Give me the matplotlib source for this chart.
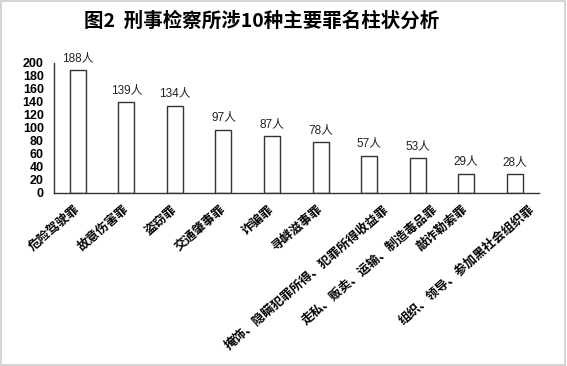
import matplotlib
matplotlib.use("Agg")
import matplotlib.pyplot as plt
from matplotlib.patches import Rectangle
from matplotlib.transforms import offset_copy

plt.rcParams['font.family'] = ['Noto Sans CJK SC', 'DejaVu Sans']

title = "图2  刑事检察所涉10种主要罪名柱状分析"
crimes = ["危险驾驶罪", "故意伤害罪", "盗窃罪", "交通肇事罪", "诈骗罪", "寻衅滋事罪",
          "掩饰、隐瞒犯罪所得、犯罪所得收益罪", "走私、贩卖、运输、制造毒品罪",
          "敲诈勒索罪", "组织、领导、参加黑社会组织罪"]
counts = [188, 139, 134, 97, 87, 78, 57, 53, 29, 28]
yticks = list(range(0, 201, 20))

fig = plt.figure(figsize=(5.67, 3.66), dpi=100)
ax = fig.add_axes([0.0944, 0.4735, 0.8562, 0.3552])

x = list(range(len(crimes)))
ax.bar(x, counts, width=0.33, color="white", edgecolor="#333333", linewidth=1.0)
ax.set_xlim(-0.5, len(crimes) - 0.5)
ax.set_ylim(0, 200)

for i, v in zip(x, counts):
    ax.annotate(f"{v}人", (i, v), xytext=(0, 4.5), textcoords="offset points",
                ha="center", va="bottom", fontsize=8.5, color="#222222",
                family=["Liberation Sans", "Noto Sans CJK SC"])

ax.set_yticks(yticks)
ax.set_yticklabels([str(t) for t in yticks], fontsize=9, fontweight="bold",
                   family="Liberation Sans")
ax.tick_params(axis="y", length=0, pad=7)
ax.set_xticks([])

for side in ["top", "right"]:
    ax.spines[side].set_visible(False)
for side in ["left", "bottom"]:
    ax.spines[side].set_color("#333333")
    ax.spines[side].set_linewidth(1.0)

# rotated category labels, long ones sit a bit to the right
for i, name in enumerate(crimes):
    dx = 18 if len(name) > 10 else 0
    tr = offset_copy(ax.get_xaxis_transform(), fig=fig, x=dx, y=-15, units="dots")
    ax.text(i, 0, name, transform=tr, rotation=41, rotation_mode="anchor",
            ha="right", va="center", fontsize=9, fontweight="bold")

fig.text(0.462, 0.943, title, ha="center", va="center", fontsize=14,
         fontweight="bold")

fig.add_artist(Rectangle((0.001, 0.003), 0.996, 0.994, transform=fig.transFigure,
                         fill=False, edgecolor="#cccccc", linewidth=1.2))

fig.savefig("out.png", dpi=100)
